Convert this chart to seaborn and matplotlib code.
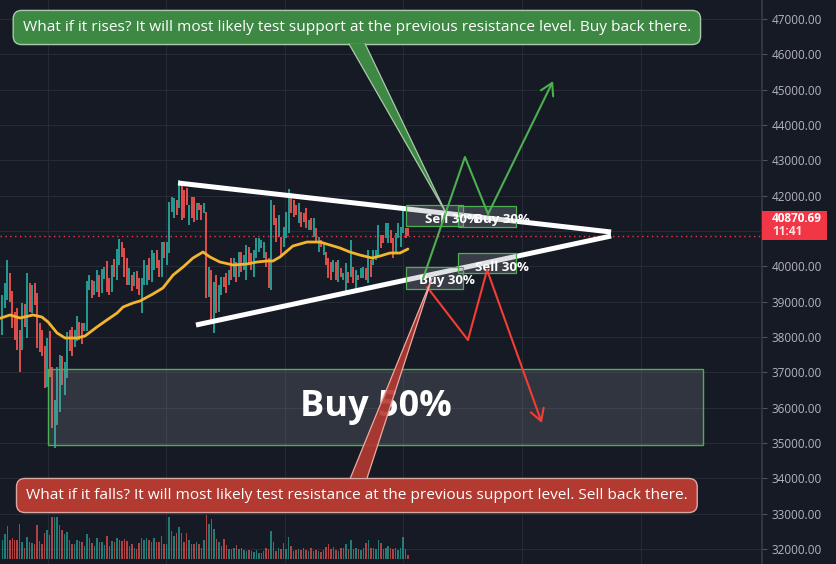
import matplotlib
matplotlib.use('Agg')
import matplotlib.pyplot as plt
from matplotlib.patches import Rectangle, Polygon
import seaborn as sns

# ---- candle data ----
opens = [38058, 38822, 39048, 39812, 39303, 38708, 38822, 38199, 37633, 38935,
         37973, 39529, 38680, 39529, 39246, 38397, 38199, 37746, 36586, 38171,
         37152, 34860, 35511, 35878, 37463, 36360, 36841, 38199, 38284, 37718,
         37888, 38425, 38397, 38171, 38171, 39331, 39614, 39190, 39274, 39755,
         39246, 39642, 40152, 39671, 39274, 40208, 39614, 40039, 40689, 40520,
         40237, 39472, 39755, 39444, 39869, 39671, 38680, 39472, 39472, 40237,
         39557, 39898, 40463, 40180, 39699, 40689, 40039, 40378, 41538, 41369,
         41878, 41652, 42303, 42161, 42218, 41170, 41963, 41963, 41312, 41793,
         41737, 41510, 41538, 39133, 39898, 38114, 39755, 38708, 39190, 39699,
         39812, 39472, 40237, 39699, 40123, 39699, 40406, 39898, 39614, 40548,
         40378, 39699, 40237, 40406, 40520, 40237, 40406, 40237, 39331, 41737,
         41369, 40831, 40831, 40548, 40803, 40944, 42076, 41878, 41737, 41227,
         41538, 41510, 41652, 41029, 41369, 40831, 41085, 40406, 40746, 40321,
         40406, 40237, 40123, 39840, 40123, 39557, 39954, 39614, 39274, 39840,
         39699, 39982, 39331, 39755, 39671, 39671, 39954, 39529, 40180, 40039,
         40180, 40265, 40888, 40888, 40803, 40661, 41029, 40803, 40378, 40803,
         40548, 40944, 41085, 41085]
closes = [39190, 39529, 40180, 38991, 38256, 37916, 37633, 37010, 38963, 38284,
          39812, 38708, 39472, 38907, 37690, 37576, 37463, 36558, 37973, 36869,
          35426, 36218, 37152, 37491, 36643, 37294, 38142, 37605, 37463, 38199,
          38595, 37916, 37803, 38397, 39586, 39755, 39105, 39586, 39898, 39133,
          39925, 39982, 39274, 39190, 40039, 39699, 40491, 40774, 40265, 39699,
          39472, 39954, 39303, 39840, 39359, 39190, 39671, 40180, 40039, 39614,
          40463, 40378, 39954, 39699, 40689, 40237, 40689, 41821, 41963, 41935,
          41453, 42444, 41312, 41369, 41737, 41737, 41369, 41255, 41793, 41595,
          41312, 41793, 39105, 39982, 38425, 39557, 38680, 39472, 39699, 39416,
          39246, 39898, 39614, 40237, 39557, 40406, 39840, 40321, 40604, 40095,
          39898, 40463, 40803, 40803, 40746, 40689, 39982, 39388, 41878, 41170,
          40689, 41453, 40321, 41114, 41538, 42190, 41510, 41397, 41453, 41793,
          41114, 41255, 41085, 41312, 41029, 41369, 40661, 40831, 40548, 40661,
          40039, 39671, 39614, 40180, 39614, 40180, 39699, 39812, 40095, 39529,
          40746, 39529, 39898, 39614, 39954, 39982, 39614, 40463, 39699, 40463,
          40463, 41170, 40520, 40661, 41227, 41227, 40661, 40237, 40944, 41227,
          41114, 41595, 40803, 40871]
volume = [58, 78, 103, 60, 66, 58, 58, 111, 53, 36,
          68, 53, 50, 48, 108, 55, 46, 83, 90, 76,
          133, 133, 133, 106, 90, 78, 85, 61, 48, 46,
          60, 55, 53, 40, 78, 65, 50, 40, 66, 53,
          53, 43, 73, 42, 56, 53, 66, 58, 56, 63,
          55, 40, 46, 33, 31, 50, 66, 58, 66, 58,
          53, 66, 53, 53, 73, 48, 46, 133, 88, 73,
          83, 100, 80, 53, 80, 60, 48, 46, 53, 46,
          33, 58, 138, 110, 126, 93, 63, 53, 40, 63,
          43, 31, 30, 33, 43, 30, 33, 28, 25, 28,
          25, 23, 28, 18, 20, 26, 36, 30, 88, 53,
          26, 33, 30, 50, 30, 70, 40, 26, 28, 30,
          28, 33, 28, 25, 33, 26, 28, 26, 23, 28,
          38, 46, 30, 38, 28, 26, 33, 36, 46, 30,
          58, 30, 33, 30, 28, 36, 50, 60, 33, 33,
          30, 60, 50, 30, 36, 40, 36, 30, 33, 28,
          33, 68, 30, 13]

# moving average, read as points along the yellow line
ma_x = [-0.9, 3.1, 7.1, 12.3, 15.9, 18.4, 22.0, 25.2, 30.0, 33.2,
        38.0, 42.0, 46.1, 48.5, 52.5, 55.3, 60.5, 64.5, 68.6, 72.6,
        76.6, 80.6, 83.4, 87.4, 92.7, 98.3, 102.3, 106.3, 108.7, 111.5,
        116.7, 122.4, 127.6, 131.6, 135.6, 139.6, 143.6, 148.5, 151.7, 155.7,
        159.7, 162.9]
ma_price = [38530, 38624, 38539, 38624, 38567, 38425, 38114, 37973, 37973, 38029,
            38284, 38482, 38680, 38850, 38963, 39020, 39218, 39388, 39755, 39982,
            40237, 40406, 40265, 40123, 40039, 40067, 40123, 40152, 40152, 40265,
            40576, 40689, 40689, 40604, 40520, 40406, 40321, 40237, 40293, 40378,
            40378, 40491]

price_ticks = list(range(32000, 47001, 1000))
time_grid = [18.2, 65.9, 113.5, 161.1, 208.8, 256.4]
last_price = 40870.69
last_time = '11:41'

# drawings (bar index, price)
upper_trend = ([70.6, 244.5], [42359, 40972])
lower_trend = ([77.8, 244.5], [38340, 40859])
green_path = ([168.9, 185.8, 195.1, 221.2], [39642, 43095, 41482, 45246])
red_path = ([170.6, 187.0, 194.7, 216.7], [39416, 37916, 39897, 35567])
small_boxes = [(162.1, 185.0, 41156, 41750), (183.0, 206.2, 41123, 41708),
               (162.1, 185.0, 39359, 39973), (183.0, 206.2, 39804, 40370)]
small_labels = [('Sell 30%', 180.6, 41340), ('Buy 30%', 200.7, 41340),
                ('Buy 30%', 178.6, 39594), ('Sell 30%', 200.7, 39973)]
buy_zone = (18.4, 281.4, 34944, 37095)
rise_text = 'What if it rises? It will most likely test support at the previous resistance level. Buy back there.'
fall_text = 'What if it falls? It will most likely test resistance at the previous support level. Sell back there.'

BG = '#161a25'
GRID = '#262a35'
UP = '#26a69a'
DOWN = '#ef5350'

sns.set_theme(style='dark', rc={'axes.facecolor': BG, 'figure.facecolor': BG,
                                'grid.color': GRID, 'axes.edgecolor': '#363a45'})
plt.rcParams['font.family'] = ['Open Sans', 'DejaVu Sans']

fig = plt.figure(figsize=(8.36, 5.64), dpi=100)
ax = fig.add_axes([0, 0, 762 / 836, 1])
xlim = (-0.92, 305.1)
ax.set_xlim(*xlim)
ax.set_ylim(31577, 47538)

idx = list(range(len(opens)))
colors = [UP if c >= o else DOWN for o, c in zip(opens, closes)]
lows = [min(o, c) for o, c in zip(opens, closes)]
highs = [max(o, c) for o, c in zip(opens, closes)]
ax.vlines(idx, lows, highs, colors=colors, lw=1.3, zorder=2)

sns.lineplot(x=ma_x, y=ma_price, ax=ax, color='#f2b52c', lw=2, zorder=3)

ax.plot(*upper_trend, color='white', lw=3.6, solid_capstyle='butt', zorder=4)
ax.plot(*lower_trend, color='white', lw=3.6, solid_capstyle='butt', zorder=4)

ax.axhline(last_price, color='#f23645', lw=1, ls=(0, (1, 2.5)), zorder=3)

for x0, x1, y0, y1 in small_boxes:
    ax.add_patch(Rectangle((x0, y0), x1 - x0, y1 - y0, fc='#9598a1', alpha=0.28,
                           ec='none', zorder=5))
    ax.add_patch(Rectangle((x0, y0), x1 - x0, y1 - y0, fc='none', ec='#4caf50',
                           lw=0.9, zorder=5))
for txt, x, y in small_labels:
    ax.text(x, y, txt, color='white', fontsize=9.5, fontweight='bold',
            ha='center', va='center', zorder=6)

x0, x1, y0, y1 = buy_zone
ax.add_patch(Rectangle((x0, y0), x1 - x0, y1 - y0, fc='#9598a1', alpha=0.22,
                       ec='none', zorder=5))
ax.add_patch(Rectangle((x0, y0), x1 - x0, y1 - y0, fc='none', ec='#4caf50',
                       lw=1, zorder=5))
ax.text((x0 + x1) / 2, (y0 + y1) / 2, 'Buy 50%', color='white', fontsize=26,
        fontweight='bold', ha='center', va='center', zorder=6)

for path, col in [(green_path, '#4caf50'), (red_path, '#f23e33')]:
    px, py = path
    ax.plot(px[:-1], py[:-1], color=col, lw=1.5, zorder=7)
    ax.annotate('', xy=(px[-1], py[-1]), xytext=(px[-2], py[-2]),
                arrowprops=dict(arrowstyle='->,head_length=0.6,head_width=0.35',
                                color=col, lw=1.5, mutation_scale=14,
                                shrinkA=0, shrinkB=0), zorder=7)

# callouts
ax.text(142.4, 46760, rise_text, color='white', fontsize=11.1, ha='center',
        va='center', zorder=10,
        bbox=dict(boxstyle='round,pad=0.62,rounding_size=0.55', fc='#3d8944',
                  ec='#a9c9aa', lw=1))
tail = [(139.2, 46300), (145.7, 46300), (178.2, 41510)]
ax.add_patch(Polygon(tail, closed=True, fc='#3d8944', ec='none', zorder=11))
ax.plot([tail[0][0], tail[2][0], tail[1][0]], [tail[0][1], tail[2][1], tail[1][1]],
        color='#a9c9aa', lw=0.9, zorder=11)

ax.text(142.4, 33515, fall_text, color='white', fontsize=11.1, ha='center',
        va='center', zorder=10,
        bbox=dict(boxstyle='round,pad=0.62,rounding_size=0.55', fc='#b33a31',
                  ec='#dba7a3', lw=1))
tail = [(139.8, 34011), (146.5, 34011), (172.6, 39671)]
ax.add_patch(Polygon(tail, closed=True, fc='#b33a31', ec='none', alpha=0.9,
                     zorder=11))
ax.plot([tail[0][0], tail[2][0], tail[1][0]], [tail[0][1], tail[2][1], tail[1][1]],
        color='#f0a8a3', lw=0.9, zorder=11)

# axes styling; the 41000 label sits under the last-price tag
ax.set_xticks(time_grid)
ax.set_yticks(price_ticks)
ax.set_yticklabels(['' if p == 41000 else f'{p:.2f}' for p in price_ticks])
ax.yaxis.tick_right()
ax.tick_params(axis='x', length=0, labelbottom=False)
ax.tick_params(axis='y', color='#50535e', labelcolor='#b2b5be', length=3.6,
               width=0.8, pad=3.6, labelsize=8.5, right=True, left=False,
               labelright=True, labelleft=False)
ax.grid(True, color=GRID, lw=0.8)
for side in ['top', 'left', 'bottom']:
    ax.spines[side].set_visible(False)
ax.spines['right'].set_color('#363a45')
ax.set_xlabel('')
ax.set_ylabel('')

# volume
vax = fig.add_axes([0, 5 / 564, 762 / 836, 60 / 564])
vax.set_facecolor('none')
vax.bar(idx, volume, width=0.6, color=colors, alpha=0.7, lw=0, ec='none', zorder=1)
vax.set_xlim(*xlim)
vax.set_ylim(0, 188)
vax.axis('off')

# last price label
fig.patches.append(Rectangle((762 / 836, 1 - 240 / 564), 65 / 836, 29 / 564,
                             transform=fig.transFigure, fc='#f23645', ec='none',
                             zorder=20))
fig.text(772 / 836, 1 - 218.5 / 564, f'{last_price:.2f}', color='white',
         fontsize=8.5, fontweight='bold', va='center', zorder=21)
fig.text(772 / 836, 1 - 232 / 564, last_time, color='#ffe3e3',
         fontsize=8.5, fontweight='bold', va='center', zorder=21)

fig.savefig('out.png', dpi=100, facecolor=BG)
